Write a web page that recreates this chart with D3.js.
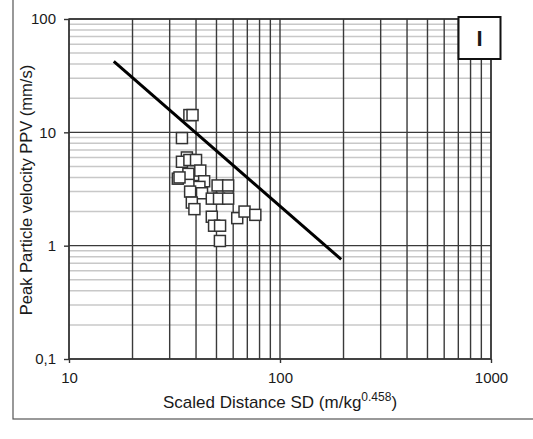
<!DOCTYPE html>
<html><head><meta charset="utf-8">
<script src="https://cdn.jsdelivr.net/npm/d3@7"></script>
<style>body{margin:0;background:#fff}svg{display:block}text{font-family:"Liberation Sans",Arial,sans-serif;fill:#1a1a1a}</style>
</head><body><svg id="c" width="533" height="439"></svg>
<script>
const sd  = [37.2,38.5,34.3,36.2,34.3,37.2,40.0,41.5,41.9,36.8,32.8,33.4,43.7,41.5,50.6,56.8,37.5,42.7,47.5,51.4,56.8,38.2,39.3,47.5,48.7,52.0,51.9,62.7,67.9,76.4];
const ppv = [14.2,14.2,8.9,6.0,5.5,5.7,5.7,4.2,4.6,4.3,3.9,4.0,3.7,3.3,3.4,3.4,3.0,2.9,2.6,2.6,2.6,2.4,2.1,1.8,1.5,1.5,1.1,1.75,2.0,1.87];
const lineSD  = [16.3,195];
const linePPV = [42.2,0.757];
const xTicks = [10,100,1000];
const yTicks = [0.1,1,10,100];
const yTickLabels = ["0,1","1","10","100"];
const xTitle = "Scaled Distance SD (m/kg";
const xTitleSup = "0.458";
const yTitle = "Peak Particle velocity PPV (mm/s)";
const panelLabel = "I";

const svg = d3.select("#c");
const L=69,R=491,T=19,B=359;
const x = d3.scaleLog().domain([10,1000]).range([L,R]);
const y = d3.scaleLog().domain([0.1,100]).range([B,T]);

svg.append("rect").attr("x",13).attr("y",-5).attr("width",540).attr("height",424)
  .attr("fill","none").attr("stroke","#555").attr("stroke-width",1.2);

const g = svg.append("g");
const yMinor=[];
for(let d=0.1; d<100; d*=10) for(let k=2;k<=9;k++) yMinor.push(+(d*k).toPrecision(3));
g.selectAll("line.hm").data(yMinor).join("line")
  .attr("x1",L).attr("x2",R).attr("y1",d=>y(d)).attr("y2",d=>y(d))
  .attr("stroke","#c8c8c8").attr("stroke-width",1.5);
const xAll=[];
for(let d=10; d<1000; d*=10) for(let k=1;k<=9;k++) xAll.push(d*k);
xAll.push(1000);
g.selectAll("line.v").data(xAll).join("line")
  .attr("x1",d=>x(d)).attr("x2",d=>x(d)).attr("y1",T).attr("y2",B)
  .attr("stroke","#3a3a3a").attr("stroke-width",1.4);
g.selectAll("line.hM").data(yTicks).join("line")
  .attr("x1",L).attr("x2",R).attr("y1",d=>y(d)).attr("y2",d=>y(d))
  .attr("stroke","#3a3a3a").attr("stroke-width",1.4);
g.append("rect").attr("x",L).attr("y",T).attr("width",R-L).attr("height",B-T)
  .attr("fill","none").attr("stroke","#333").attr("stroke-width",1.4);

const yAx = svg.append("g").attr("transform",`translate(${L},0)`)
  .call(d3.axisLeft(y).tickValues(yTicks).tickFormat((d,i)=>yTickLabels[i]).tickSize(5).tickPadding(8));
const xAx = svg.append("g").attr("transform",`translate(0,${B})`)
  .call(d3.axisBottom(x).tickValues(xTicks).tickFormat(d3.format("d")).tickSize(4).tickPadding(9));
[yAx,xAx].forEach(a=>{a.select(".domain").remove();
  a.selectAll("line").attr("stroke","#333").attr("stroke-width",1.4);
  a.selectAll("text").style("font-size","15px").attr("fill","#1a1a1a");});

svg.append("g").selectAll("rect").data(sd.map((s,i)=>[s,ppv[i]])).join("rect")
  .attr("x",d=>x(d[0])-5.5).attr("y",d=>y(d[1])-5.5).attr("width",11).attr("height",11)
  .attr("fill","#fff").attr("stroke","#333").attr("stroke-width",1.5);

svg.append("path").datum(lineSD.map((s,i)=>[s,linePPV[i]]))
  .attr("d",d3.line().x(d=>x(d[0])).y(d=>y(d[1])))
  .attr("stroke","#000").attr("stroke-width",3).attr("fill","none");

svg.append("rect").attr("x",458.5).attr("y",17).attr("width",42).attr("height",42)
  .attr("fill","#fff").attr("stroke","#111").attr("stroke-width",2);
svg.append("text").attr("x",479.5).attr("y",46).attr("text-anchor","middle")
  .style("font-size","22px").style("font-weight","bold").attr("fill","#000").text(panelLabel);

const xt = svg.append("text").attr("x",280).attr("y",408).attr("text-anchor","middle").style("font-size","17px");
xt.append("tspan").text(xTitle);
xt.append("tspan").attr("dy",-7).style("font-size","12px").text(xTitleSup);
xt.append("tspan").attr("dy",7).text(")");
svg.append("text").attr("transform","translate(32,190) rotate(-90)").attr("text-anchor","middle")
  .style("font-size","16.5px").text(yTitle);
</script></body></html>
